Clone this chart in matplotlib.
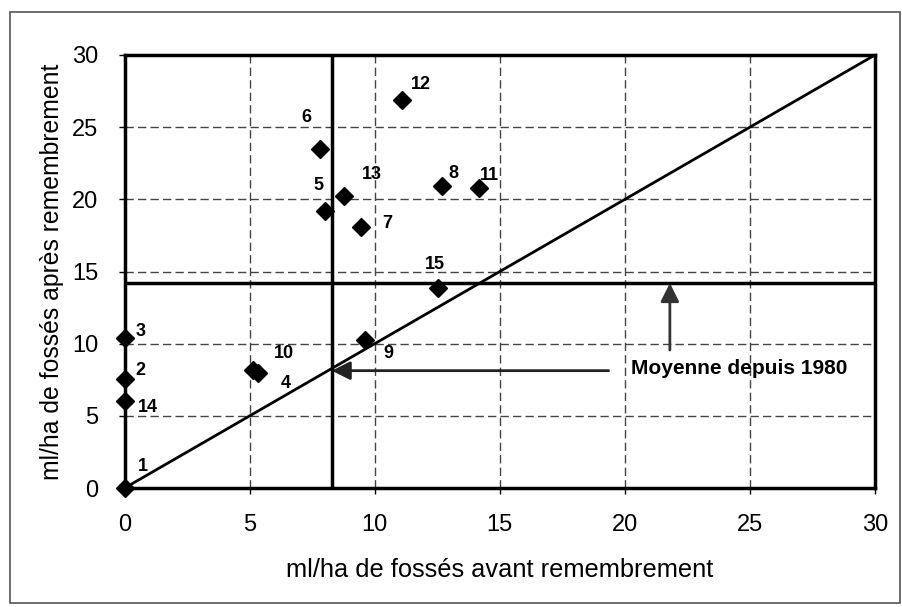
import matplotlib
matplotlib.use("Agg")
import matplotlib.pyplot as plt
from matplotlib.patches import Rectangle

plt.rcParams["font.family"] = ["Liberation Sans", "DejaVu Sans"]

# Linéaire de fossés par commune (ml/ha), avant et après remembrement
num_commune = ["1", "2", "3", "4", "5", "6", "7", "8", "9", "10", "11", "12", "13", "14", "15"]
avant = [0.0, 0.0, 0.0, 5.35, 8.0, 7.83, 9.47, 12.68, 9.6, 5.15, 14.17, 11.1, 8.77, 0.0, 12.52]
apres = [0.0, 7.55, 10.4, 7.95, 19.2, 23.5, 18.05, 20.9, 10.25, 8.15, 20.77, 26.85, 20.2, 6.05, 13.86]

# décalage des étiquettes (pixels)
dx_lab = [18, 16, 16, 27, -6, -14, 26, 12, 24, 30, 10, 19, 28, 23, -3]
dy_lab = [22, 9, 6, -10, 25, 31, 4, 13, -13, 17, 13, 16, 22, -7, 23]

moy_avant = 8.28
moy_apres = 14.2

fig = plt.figure(figsize=(9.02, 6.07), dpi=100)
ax = fig.add_axes([0.1382, 0.196, 0.8318, 0.7134])

# cadre extérieur
fig.patches.append(Rectangle((0.011, 0.007), 0.987, 0.973, transform=fig.transFigure,
                             fill=False, edgecolor="#555555", lw=1.2))

ax.set_xlim(0, 30)
ax.set_ylim(0, 30)
ax.set_xticks(range(0, 31, 5))
ax.set_yticks(range(0, 31, 5))
ax.grid(True, linestyle=(0, (6, 3)), color="#444444", lw=1)
ax.set_axisbelow(True)
for s in ax.spines.values():
    s.set_linewidth(2.5)
ax.tick_params(labelsize=17, length=4, width=1, pad=15, direction="out")

# droite y = x
ax.plot([0, 30], [0, 30], color="black", lw=2)

# moyennes
ax.axvline(moy_avant, color="black", lw=2.5)
ax.axhline(moy_apres, color="black", lw=2.5)

ax.plot(avant, apres, linestyle="none", marker="D", markersize=9,
        color="black", markeredgecolor="black", zorder=5, clip_on=False)

for lab, x, y, dx, dy in zip(num_commune, avant, apres, dx_lab, dy_lab):
    ax.annotate(lab, (x, y), xytext=(dx, dy), textcoords="offset pixels",
                ha="center", va="center", fontsize=13, fontweight="bold", zorder=6)

# flèches vers les moyennes
ax.annotate("", xy=(moy_avant, 8.13), xytext=(19.35, 8.13),
            arrowprops=dict(arrowstyle="-|>", mutation_scale=28, lw=2, color="#222222",
                            shrinkA=0, shrinkB=0))
ax.annotate("", xy=(21.8, moy_apres), xytext=(21.8, 9.56),
            arrowprops=dict(arrowstyle="-|>", mutation_scale=28, lw=2, color="#333333",
                            shrinkA=0, shrinkB=0))
ax.text(20.25, 8.3, "Moyenne depuis 1980", fontsize=15, fontweight="bold",
        ha="left", va="center")

ax.set_xlabel("ml/ha de fossés avant remembrement", fontsize=18.3, labelpad=15.5)
ax.set_ylabel("ml/ha de fossés après remembrement", fontsize=17.8, labelpad=6)

fig.savefig("out.png", dpi=100)
